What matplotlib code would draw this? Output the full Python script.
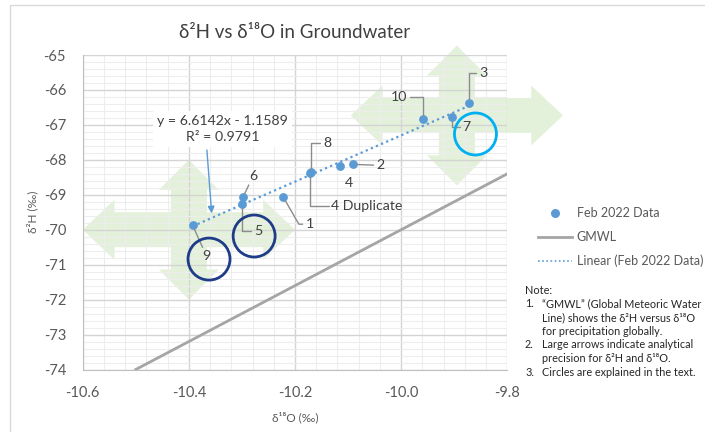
import matplotlib
matplotlib.use('Agg')
import matplotlib.pyplot as plt
from matplotlib.patches import Polygon, Rectangle
from matplotlib.lines import Line2D
import numpy as np

plt.rcParams['font.family'] = ['Lato', 'DejaVu Sans']

# sample data
samples = ['1', '2', '3', '4', '4 Duplicate', '5', '6', '7', '8', '9', '10']
d18o = [-10.222, -10.090, -9.872, -10.115, -10.171, -10.300, -10.298, -9.905, -10.170, -10.393, -9.959]
d2h = [-69.07, -68.13, -66.37, -68.18, -68.38, -69.25, -69.07, -66.77, -68.35, -69.87, -66.83]

# label offsets (pixels) and leader style per sample
label_dx = [22, 23, 10, 9, 21, 12, 10, 11, 12, 14, -16]
label_dy = [-27, -1, 30, -17, -33, -27, 21, -10, 29, -31, 22]
label_ha = ['left', 'left', 'left', 'center', 'left', 'left', 'center', 'left', 'left', 'center', 'right']
label_leader = ['angle,angleA=0,angleB=-60,rad=0', 'arc3', 'angle,angleA=0,angleB=90,rad=0', None,
                'angle,angleA=0,angleB=90,rad=0', 'angle,angleA=0,angleB=90,rad=0', 'arc3',
                'angle,angleA=0,angleB=90,rad=0', 'angle,angleA=0,angleB=90,rad=0', 'arc3',
                'angle,angleA=0,angleB=90,rad=0']

# trendline from the chart's equation
slope = 6.6142
intercept = -1.1589
r2 = 0.9791

# global meteoric water line: d2H = 8 * d18O + 10
gmwl_slope = 8
gmwl_intercept = 10
gmwl_x = [-10.5, -9.8]

# analytical precision arrows
prec_o = 0.2
prec_h = 2.0
arrow_cx = [-10.4, -9.895]
arrow_cy = [-70.0, -66.73]

# circles
circle_x = [-10.362, -10.277, -9.860]
circle_y = [-70.84, -70.18, -67.26]
circle_col = ['#1F3C88', '#1F3C88', '#00B0F0']

notes = [
    ('1.', '\u201cGMWL\u201d (Global Meteoric Water'),
    ('', 'Line) shows the \u03b4\u00b2H versus \u03b4\u00b9\u2078O'),
    ('', 'for precipitation globally.'),
    ('2.', 'Large arrows indicate analytical'),
    ('', 'precision for \u03b4\u00b2H and \u03b4\u00b9\u2078O.'),
    ('3.', 'Circles are explained in the text.'),
]

W, H = 705, 432
fig = plt.figure(figsize=(W / 100, H / 100), dpi=100)
ax = fig.add_axes([82.7 / W, 1 - 369.5 / H, (507.3 - 82.7) / W, (369.5 - 55) / H])
ax.set_xlim(-10.6, -9.8)
ax.set_ylim(-74, -65)
ax.set_xticks(np.arange(-10.6, -9.79, 0.2))
ax.set_xticks(np.arange(-10.6, -9.79, 0.04), minor=True)
ax.set_yticks(np.arange(-74, -64.9, 1))
ax.set_yticks(np.arange(-74, -64.9, 0.2), minor=True)
ax.set_xticklabels(['%.1f' % v for v in ax.get_xticks()])
ax.set_yticklabels(['%d' % v for v in ax.get_yticks()])
ax.set_axisbelow(True)
ax.grid(which='major', color='#D4D4D4', lw=1, zorder=0.5)
ax.grid(which='minor', color='#EDEDED', lw=0.8, zorder=0.45)
ax.tick_params(which='both', length=0, labelsize=10.5, colors='#595959', pad=12)
for s in ax.spines.values():
    s.set_visible(False)
ax.spines['left'].set_visible(True)
ax.spines['bottom'].set_visible(True)
ax.spines['left'].set_color('#BFBFBF')
ax.spines['bottom'].set_color('#BFBFBF')

# precision crosses
hlx, hwy, swy = 0.06, 0.86, 0.5
hly, hwx, swx = 0.86, 0.0565, 0.034
for cx, cy in zip(arrow_cx, arrow_cy):
    hx, hy = prec_o, prec_h
    pts = [(cx + hx, cy), (cx + hx - hlx, cy + hwy), (cx + hx - hlx, cy + swy), (cx + swx, cy + swy),
           (cx + swx, cy + hy - hly), (cx + hwx, cy + hy - hly), (cx, cy + hy), (cx - hwx, cy + hy - hly),
           (cx - swx, cy + hy - hly), (cx - swx, cy + swy), (cx - hx + hlx, cy + swy), (cx - hx + hlx, cy + hwy),
           (cx - hx, cy), (cx - hx + hlx, cy - hwy), (cx - hx + hlx, cy - swy), (cx - swx, cy - swy),
           (cx - swx, cy - hy + hly), (cx - hwx, cy - hy + hly), (cx, cy - hy), (cx + hwx, cy - hy + hly),
           (cx + swx, cy - hy + hly), (cx + swx, cy - swy), (cx + hx - hlx, cy - swy), (cx + hx - hlx, cy - hwy)]
    ax.add_patch(Polygon(pts, closed=True, fc='#E4F1DA', ec='none', zorder=0.3, clip_on=False))

# GMWL
gx = np.array(gmwl_x)
ax.plot(gx, gmwl_slope * gx + gmwl_intercept, color='#A5A5A5', lw=2, zorder=2)

# trendline across the data range
tx = np.array([min(d18o), max(d18o)])
ax.plot(tx, slope * tx + intercept, ls=(0, (1, 1.5)), color='#5B9BD5', lw=1.6, zorder=3)

ax.scatter(d18o, d2h, s=40, color='#5B9BD5', zorder=4, linewidths=0)

# data labels with leader lines
for name, x, y, dx, dy, ha, cs in zip(samples, d18o, d2h, label_dx, label_dy, label_ha, label_leader):
    props = None
    if cs is not None:
        props = dict(arrowstyle='-', color='#8C8C8C', lw=1, connectionstyle=cs, shrinkA=0, shrinkB=3)
    ax.annotate(name, (x, y), xytext=(dx, dy), textcoords='offset pixels', ha=ha, va='center',
                fontsize=10.2, color='#404040', arrowprops=props, zorder=5)

# circles
ax.scatter(circle_x, circle_y, s=(42 * 0.72) ** 2, facecolors='none', edgecolors=circle_col,
           linewidths=2, zorder=6, clip_on=False)

# equation label and pointer
ax.annotate('y = %.4fx - %.4f\nR\u00b2 = %.4f' % (slope, -intercept, r2), (-10.336, -67.12),
            ha='center', va='center', fontsize=10.2, color='#404040', linespacing=1.35,
            bbox=dict(fc='white', ec='none', pad=3), zorder=5)
px = -10.357
ax.annotate('', xy=(px, slope * px + intercept + 0.13), xytext=(-10.366, -67.72),
            arrowprops=dict(arrowstyle='-|>', color='#5B9BD5', lw=1, mutation_scale=10, shrinkA=0, shrinkB=0),
            zorder=5)

ax.set_title('\u03b4\u00b2H vs \u03b4\u00b9\u2078O in Groundwater', fontsize=13.5, color='#404040', pad=12)
ax.set_xlabel('\u03b4\u00b9\u2078O (\u2030)', fontsize=8.5, color='#595959', labelpad=8)
ax.set_ylabel('\u03b4\u00b2H (\u2030)', fontsize=8.5, color='#595959', labelpad=4)

# legend
handles = [Line2D([], [], ls='none', marker='o', ms=6.5, color='#5B9BD5', mec='none'),
           Line2D([], [], color='#A5A5A5', lw=2),
           Line2D([], [], color='#5B9BD5', lw=1.2, ls=(0, (1, 1.5)))]
fig.legend(handles, ['Feb 2022 Data', 'GMWL', 'Linear (Feb 2022 Data)'], loc='upper left',
           bbox_to_anchor=(538 / W, 1 - 207 / H), frameon=False, fontsize=9, labelcolor='#595959',
           handlelength=2.7, handletextpad=0.4, labelspacing=0.95, borderpad=0, borderaxespad=0)

# notes
fig.text(525 / W, 1 - 290 / H, 'Note:', fontsize=7.8, color='#262626', va='center')
for i, (num, line) in enumerate(notes):
    yy = 1 - (303.7 + 13.7 * i) / H
    if num:
        fig.text(525 / W, yy, num, fontsize=7.8, color='#262626', va='center')
    fig.text(541.7 / W, yy, line, fontsize=7.8, color='#262626', va='center')

# chart area border
fig.add_artist(Rectangle((10 / W, -0.05), 1, 1.05 - 5 / H, transform=fig.transFigure,
                         fill=False, ec='#D9D9D9', lw=1))

fig.savefig('out.png', dpi=100, facecolor='white')
